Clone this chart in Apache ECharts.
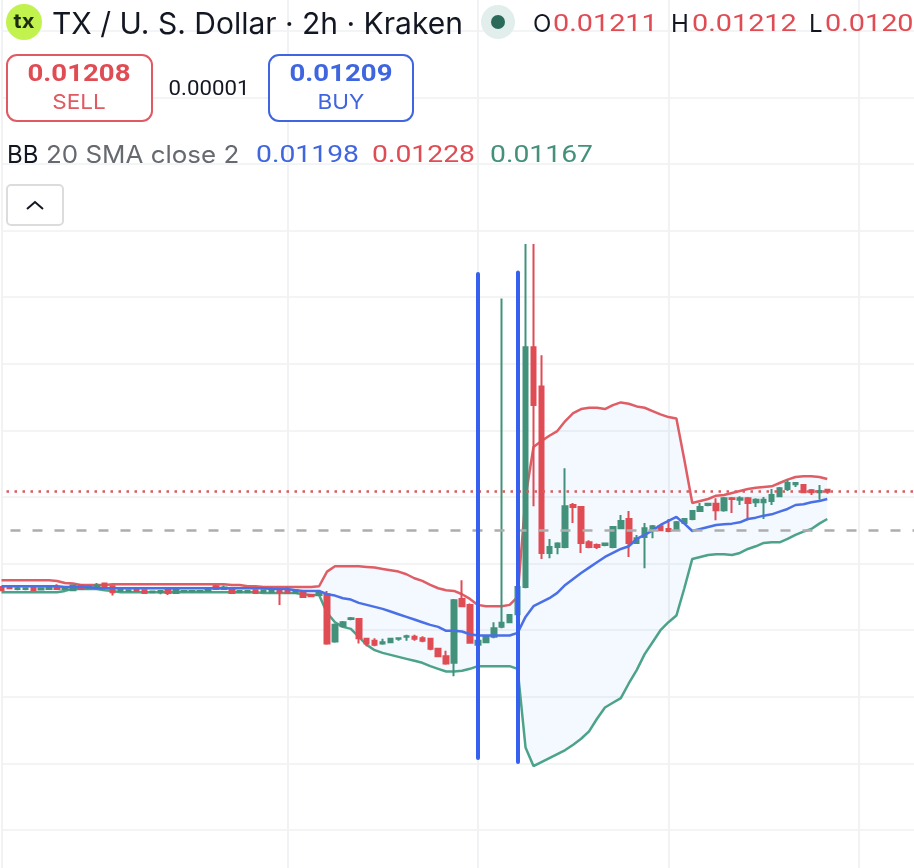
<!DOCTYPE html>
<html>
<head>
<meta charset="utf-8">
<title>TX / U. S. Dollar</title>
<script src="https://cdn.jsdelivr.net/npm/echarts@6/dist/echarts.min.js"></script>
<style>
html, body { margin: 0; padding: 0; background: #fff; overflow: hidden; }
#chart-panel { width: 914px; height: 868px; }
</style>
</head>
<body>
<div id="chart-panel"></div>
<script>
// all prices in units of 0.00001 USD
// candles: open, close, low, high
var candles = [
    [1065,1060,1059,1066],[1066,1063,1062,1067],[1062,1063,1060,1065],[1062,1063,1060,1064],[1065,1060,1059,1066],
    [1061,1063,1060,1064],[1062,1064,1061,1068],[1065,1062,1061,1069],[1062,1063,1061,1064],[1060,1067,1059,1068],
    [1067,1062,1061,1068],[1063,1066,1062,1067],[1063,1067,1062,1071],[1070,1065,1064,1071],[1066,1057,1052,1067],
    [1059,1061,1058,1062],[1059,1060,1058,1061],[1061,1059,1058,1062],[1060,1056,1055,1061],[1057,1058,1056,1059],
    [1057,1059,1054,1060],[1061,1056,1053,1062],[1056,1061,1055,1062],[1058,1059,1057,1060],[1058,1059,1057,1060],
    [1058,1059,1057,1060],[1059,1061,1058,1062],[1066,1062,1061,1068],[1062,1064,1061,1067],[1061,1056,1055,1063],
    [1057,1059,1056,1060],[1057,1059,1056,1060],[1060,1056,1055,1061],[1057,1060,1056,1061],[1057,1061,1056,1065],
    [1060,1057,1038,1061],[1060,1056,1055,1065],[1056,1060,1055,1061],[1056,1050,1049,1058],[1053,1051,1050,1054],
    [1053,1057,1052,1058],[1054,980,978,1059],[983,1008,981,1010],[1006,1012,1005,1014],[1017,1018,1015,1020],
    [1017,988,980,1018],[987,980,976,988],[984,978,976,988],[980,982,978,987],[982,987,981,988],
    [987,988,984,989],[990,991,984,993],[990,987,984,993],[988,984,982,991],[987,972,970,988],
    [972,961,960,973],[961,950,948,969],[951,1045,931,1047],[1047,1036,1035,1075],[1038,981,980,1040],
    [978,984,976,987],[982,990,981,991],[990,1003,988,1012],[1005,1011,1003,1498],[1012,1023,1011,1024],
    [1024,1065,1023,1066],[1065,1425,1063,1580],[1425,1338,1186,1580],[1366,1116,1107,1413],[1116,1125,1108,1137],
    [1125,1130,1114,1132],[1125,1186,1123,1243],[1188,1185,1161,1191],[1185,1131,1116,1186],[1132,1125,1123,1135],
    [1128,1125,1122,1130],[1128,1130,1126,1131],[1125,1155,1123,1156],[1153,1164,1152,1173],[1167,1131,1110,1179],
    [1131,1138,1130,1143],[1140,1153,1093,1161],[1152,1156,1138,1158],[1156,1150,1149,1158],[1152,1149,1147,1167],
    [1152,1162,1150,1164],[1161,1167,1160,1168],[1167,1179,1165,1180],[1179,1185,1178,1191],[1188,1190,1186,1191],
    [1190,1180,1165,1198],[1180,1198,1178,1200],[1198,1197,1176,1200],[1196,1198,1188,1201],[1198,1191,1165,1200],
    [1192,1196,1185,1198],[1192,1196,1167,1200],[1194,1203,1188,1212],[1201,1213,1200,1215],[1212,1221,1209,1225],
    [1219,1221,1215,1222],[1218,1207,1206,1219],[1210,1207,1203,1212],[1207,1209,1196,1218],[1211,1208,1205,1212]
];

// bollinger bands
var bbUpper = [
    1075,1075,1075,1075,1075,1075,1075,1074,1071,1070,
    1068,1068,1068,1068,1069,1069,1069,1069,1069,1069,
    1069,1069,1069,1069,1069,1069,1069,1069,1069,1068,
    1068,1066,1066,1065,1065,1065,1065,1065,1065,1065,
    1066,1088,1096,1096,1096,1096,1095,1094,1092,1090,
    1088,1084,1078,1074,1068,1063,1060,1059,1054,1047,
    1038,1036,1036,1036,1038,1050,1200,1275,1284,1292,
    1299,1314,1326,1332,1334,1334,1332,1338,1342,1340,
    1336,1334,1329,1324,1320,1318,1256,1191,1194,1197,
    1202,1203,1206,1209,1212,1214,1215,1216,1221,1226,
    1230,1231,1231,1230,1227
];
var bbMiddle = [
    1066,1066,1066,1066,1066,1066,1066,1066,1065,1065,
    1065,1065,1063,1063,1063,1063,1063,1063,1063,1063,
    1063,1063,1063,1063,1063,1063,1063,1063,1063,1063,
    1063,1063,1063,1063,1062,1062,1062,1060,1059,1059,
    1059,1054,1052,1048,1046,1041,1038,1035,1032,1028,
    1024,1020,1016,1012,1008,1005,999,999,998,994,
    992,992,992,992,992,996,1020,1036,1042,1048,
    1056,1068,1077,1086,1094,1102,1110,1116,1122,1126,
    1137,1143,1150,1158,1164,1170,1160,1149,1152,1155,
    1158,1159,1160,1162,1167,1169,1172,1174,1178,1182,
    1188,1189,1192,1194,1197
];
var bbLower = [
    1057,1057,1057,1057,1057,1057,1057,1057,1059,1062,
    1062,1062,1062,1060,1059,1057,1057,1057,1057,1057,
    1057,1057,1057,1057,1057,1057,1057,1057,1057,1057,
    1057,1057,1057,1056,1056,1056,1056,1056,1054,1053,
    1053,1026,1012,1005,1002,990,978,970,966,963,
    960,957,954,951,946,942,938,938,939,942,
    946,946,946,946,946,942,824,796,802,808,
    814,820,828,837,848,867,884,891,898,920,
    940,964,982,1000,1012,1022,1063,1107,1110,1113,
    1114,1114,1113,1116,1122,1126,1131,1132,1132,1137,
    1143,1148,1152,1160,1167
];

// two drawn trend lines: candle index, from price, to price
var drawnLines = [[60, 1535, 808], [65, 1537, 802]];
var lastPrice = 1208;
var dashedPrice = 1150;
// candles where the vertical grid falls
var gridCandles = [0, 36, 60, 84, 108];
var slotCount = 116;

var categories = [];
for (var i = 0; i < slotCount; i++) {
    categories.push(String(i));
}
var bandFill = bbUpper.map(function (v, i) { return v - bbLower[i]; });

var red = '#e04c54', green = '#43917b', blue = '#4a6fe6';

function text(x, y, str, fill, size, opts) {
    opts = opts || {};
    return {
        type: 'text',
        z: 100,
        x: x,
        y: y,
        scaleX: opts.scaleX || 1,
        style: {
            text: str,
            fill: fill,
            font: (opts.weight || 'normal') + ' ' + size + 'px ' + (opts.family || 'Inter'),
            textAlign: opts.align || 'left',
            textVerticalAlign: 'middle'
        }
    };
}
function box(x, y, w, h, r, stroke) {
    return {
        type: 'rect',
        z: 99,
        shape: { x: x, y: y, width: w, height: h, r: r },
        style: { fill: '#fff', stroke: stroke, lineWidth: 2 }
    };
}

var chartOption = {
    backgroundColor: '#fff',
    animation: false,
    grid: { left: 1.5, width: 913.1, top: -35.8, height: 932.4, outerBoundsMode: 'none' },
    xAxis: {
        type: 'category',
        boundaryGap: false,
        data: categories,
        axisLine: { show: false },
        axisTick: { show: false },
        axisLabel: { show: false },
        splitLine: {
            show: true,
            interval: function (index) { return gridCandles.indexOf(index) >= 0; },
            lineStyle: { color: '#f1f2f4', width: 2 }
        }
    },
    yAxis: {
        type: 'value',
        min: 600,
        max: 2000,
        interval: 100,
        axisLine: { show: false },
        axisTick: { show: false },
        axisLabel: { show: false },
        splitLine: { lineStyle: { color: '#f3f4f6', width: 2 } }
    },
    series: [
        {
            name: 'band base',
            type: 'line',
            stack: 'band',
            data: bbLower,
            symbol: 'none',
            lineStyle: { opacity: 0 },
            z: 1
        },
        {
            name: 'band',
            type: 'line',
            stack: 'band',
            data: bandFill,
            symbol: 'none',
            lineStyle: { opacity: 0 },
            areaStyle: { color: 'rgba(90,170,240,0.07)', opacity: 1 },
            z: 1
        },
        {
            name: 'upper',
            type: 'line',
            data: bbUpper,
            symbol: 'none',
            lineStyle: { color: '#df5d64', width: 2.5 },
            z: 3
        },
        {
            name: 'lower',
            type: 'line',
            data: bbLower,
            symbol: 'none',
            lineStyle: { color: '#4ca389', width: 2.5 },
            z: 3
        },
        {
            name: 'candles',
            type: 'candlestick',
            data: candles,
            barWidth: 5,
            itemStyle: {
                color: green,
                color0: red,
                borderColor: green,
                borderColor0: red,
                borderWidth: 2
            },
            z: 4
        },
        {
            name: 'basis',
            type: 'line',
            data: bbMiddle,
            symbol: 'none',
            lineStyle: { color: blue, width: 2.5 },
            z: 5,
            markLine: {
                silent: true,
                symbol: 'none',
                animation: false,
                label: { show: false },
                z: 6,
                data: [
                    {
                        yAxis: lastPrice,
                        lineStyle: { color: '#dc5a61', type: [2.5, 5.5], dashOffset: 3, width: 2.5 }
                    },
                    {
                        yAxis: dashedPrice,
                        lineStyle: { color: '#adadad', type: [10, 12], dashOffset: 13, width: 2.5 }
                    }
                ].concat(drawnLines.map(function (d) {
                    return [
                        { coord: [d[0], d[1]], lineStyle: { color: '#3560f0', width: 4, type: 'solid', cap: 'round' } },
                        { coord: [d[0], d[2]] }
                    ];
                }))
            }
        }
    ],
    graphic: [
        // title row
        { type: 'circle', z: 99, shape: { cx: 24, cy: 22, r: 18 }, style: { fill: '#c1f24e' } },
        text(24, 22, 'tx', '#1d2b14', 20, { weight: 'bold', align: 'center', scaleX: 1.1 }),
        text(52, 25, 'TX / U. S. Dollar · 2h · Kraken', '#131722', 30),
        { type: 'circle', z: 99, shape: { cx: 498, cy: 22, r: 17 }, style: { fill: '#e2eeeb' } },
        { type: 'circle', z: 99, shape: { cx: 498, cy: 22, r: 7 }, style: { fill: '#2a6a59' } },
        text(533, 25, 'O', '#131722', 24),
        text(553, 25, '0.01211', red, 24, { family: 'Roboto', scaleX: 1.2 }),
        text(671, 25, 'H', '#131722', 24),
        text(692, 25, '0.01212', red, 24, { family: 'Roboto', scaleX: 1.2 }),
        text(809, 25, 'L', '#131722', 24),
        text(825, 25, '0.0120', red, 24, { family: 'Roboto', scaleX: 1.2 }),
        // sell / buy
        box(7, 55, 145, 66, 10, '#df5a62'),
        text(79, 75, '0.01208', red, 23, { weight: 'bold', family: 'Roboto', align: 'center', scaleX: 1.2 }),
        text(79, 103, 'SELL', '#df5a62', 20.5, { align: 'center', scaleX: 1.1 }),
        text(209, 90, '0.00001', '#131722', 19.5, { family: 'Roboto', align: 'center', scaleX: 1.14 }),
        box(269, 55, 144, 66, 10, '#3f66e0'),
        text(341, 75, '0.01209', '#3f66e0', 23, { weight: 'bold', family: 'Roboto', align: 'center', scaleX: 1.2 }),
        text(341, 103, 'BUY', '#3f66e0', 20.5, { align: 'center', scaleX: 1.1 }),
        // indicator legend
        text(7, 156, 'BB', '#131722', 24),
        text(46, 156, '20 SMA close 2', '#666a70', 24, { scaleX: 1.08 }),
        text(256, 156, '0.01198', '#3f66e0', 24, { family: 'Roboto', scaleX: 1.18 }),
        text(372, 156, '0.01228', red, 24, { family: 'Roboto', scaleX: 1.18 }),
        text(490, 156, '0.01167', green, 24, { family: 'Roboto', scaleX: 1.18 }),
        // collapse button
        box(7, 185, 56, 40, 4, '#dcdcdc'),
        {
            type: 'polyline',
            z: 100,
            shape: { points: [[27, 209], [35, 202], [43, 209]] },
            style: { stroke: '#131722', lineWidth: 2, fill: 'none' }
        }
    ]
};

var myChart = echarts.init(document.getElementById('chart-panel'));
myChart.setOption(chartOption);
</script>
</body>
</html>
